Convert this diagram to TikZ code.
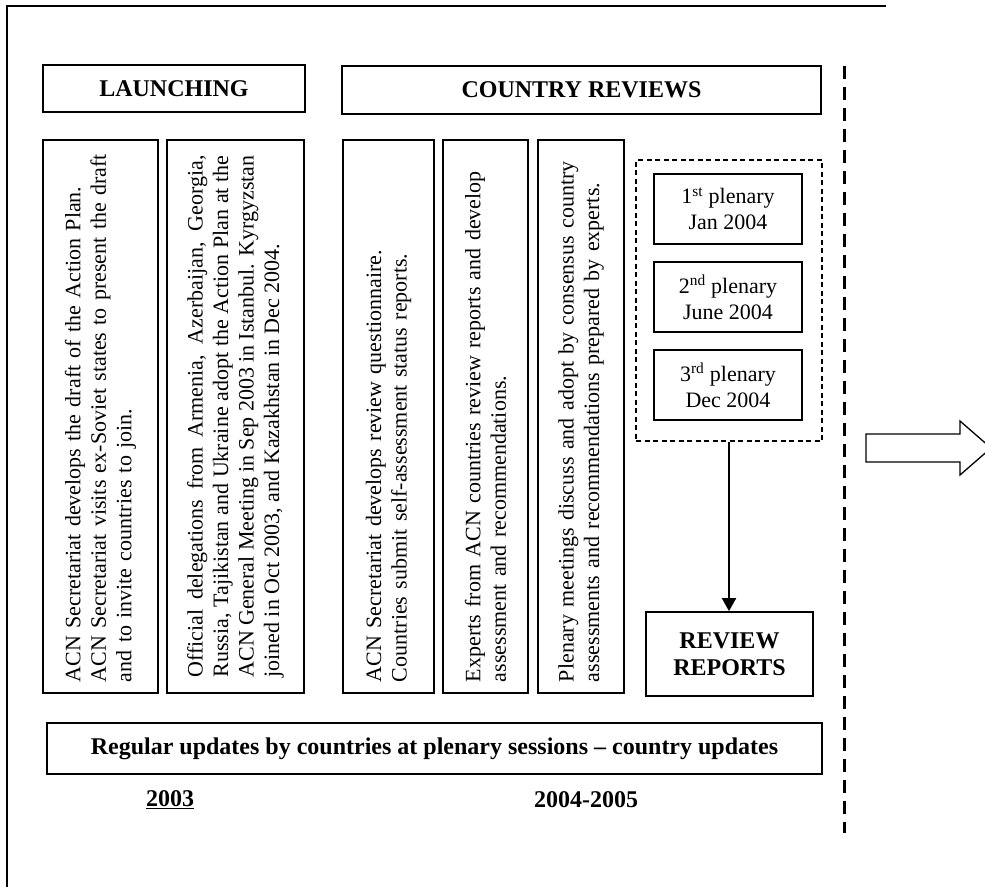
\documentclass[tikz,border=0pt]{standalone}
\usepackage{fontspec}
\setmainfont{Liberation Serif}
\usetikzlibrary{arrows.meta}
\begin{document}
\begin{tikzpicture}[x=1pt,y=-1pt,
  headbox/.style={draw, line width=2.8pt, font=\fontsize{24}{27}\selectfont\bfseries, inner sep=0pt},
  colbox/.style={draw, line width=1.3pt, rotate=90, font=\fontsize{22}{25.5}\selectfont,
                 minimum width=553pt, inner xsep=11pt, inner ysep=0pt},
  plenbox/.style={draw, line width=1.3pt, minimum width=148pt, minimum height=70pt,
                  inner sep=0pt, align=center, font=\fontsize{22}{26}\selectfont},
  boldtxt/.style={font=\fontsize{24}{27}\selectfont\bfseries},
  thinbox/.style={draw, line width=1.3pt, inner sep=0pt}
]
\fill[white] (0,0) rectangle (985,887);
\useasboundingbox (0,0) rectangle (985,887);

% outer frame (top and left only)
\draw[line width=1.6pt] (886,6) -- (7,6) -- (7,887);

% headings
\node[headbox, minimum width=262pt, minimum height=47pt] (launch) at (174,88.5) {LAUNCHING};
\node[headbox, minimum width=479pt, minimum height=48pt] (crev) at (581.5,90) {COUNTRY REVIEWS};

% columns
\node[colbox, minimum height=115pt, text width=531pt, align=left] (c1) at (100.5,416.5)
  {ACN Secretariat develops the draft of the Action Plan.\\
   ACN Secretariat visits ex-Soviet states to present the draft\\
   and to invite countries to join.};
\node[colbox, minimum height=137pt, text width=522pt, align=justify] (c2) at (235.5,416.5)
  {Official delegations from Armenia, Azerbaijan, Georgia,\linebreak
   Russia, Tajikistan and Ukraine adopt the Action Plan at the\linebreak
   ACN General Meeting in Sep 2003 in Istanbul. Kyrgyzstan\linebreak
   joined in Oct 2003, and Kazakhstan in Dec 2004.};
\node[colbox, minimum height=91pt, text width=531pt, align=left] (c3) at (388.5,416.5)
  {ACN Secretariat develops review questionnaire.\\
   Countries submit self-assessment status reports.};
\node[colbox, minimum height=85pt, text width=531pt, align=left] (c4) at (485.5,416.5)
  {Experts from ACN countries review reports and develop\\
   assessment and recommendations.};
\node[colbox, minimum height=86pt, text width=531pt, align=left] (c5) at (581,416.5)
  {Plenary meetings discuss and adopt by consensus country\\
   assessments and recommendations prepared by experts.};

% plenary group
\node[draw, line width=1.2pt, dash pattern=on 5pt off 3.5pt, minimum width=186pt,
      minimum height=281pt, inner sep=0pt] (plen) at (729,300.5) {};
\node[plenbox] (p1) at (728,209) {1\textsuperscript{st} plenary\\Jan 2004};
\node[plenbox] (p2) at (728,297) {2\textsuperscript{nd} plenary\\June 2004};
\node[plenbox] (p3) at (728,385) {3\textsuperscript{rd} plenary\\Dec 2004};

% review reports
\node[thinbox, line width=1.8pt, minimum width=167pt, minimum height=84pt, align=center,
      boldtxt] (rr) at (729.5,654) {REVIEW\\REPORTS};
\draw[line width=2pt, -{Triangle[length=13pt,width=14pt]}] (plen.south) -- (plen.south |- rr.north);

% regular updates
\node[thinbox, minimum width=775pt, minimum height=51pt, boldtxt] (upd) at (434.5,748.5)
  {Regular updates by countries at plenary sessions -- country updates};

% years
\node[boldtxt, inner sep=0pt] (y1) at (170,800) {\underline{2003}};
\node[boldtxt, inner sep=0pt] (y2) at (586,800) {2004-2005};

% thick dashed separator
\coordinate (sepTop) at (844,66);
\coordinate (sepBot) at (844,833);
\draw[line width=3pt, dash pattern=on 13pt off 8pt] (sepTop) -- (sepBot);

% block arrow to the right
\draw[line width=1.3pt, fill=white] (866,434) -- (960,434) -- (960,421) -- (991,448)
  -- (960,475) -- (960,462) -- (866,462) -- cycle;
\end{tikzpicture}
\end{document}
